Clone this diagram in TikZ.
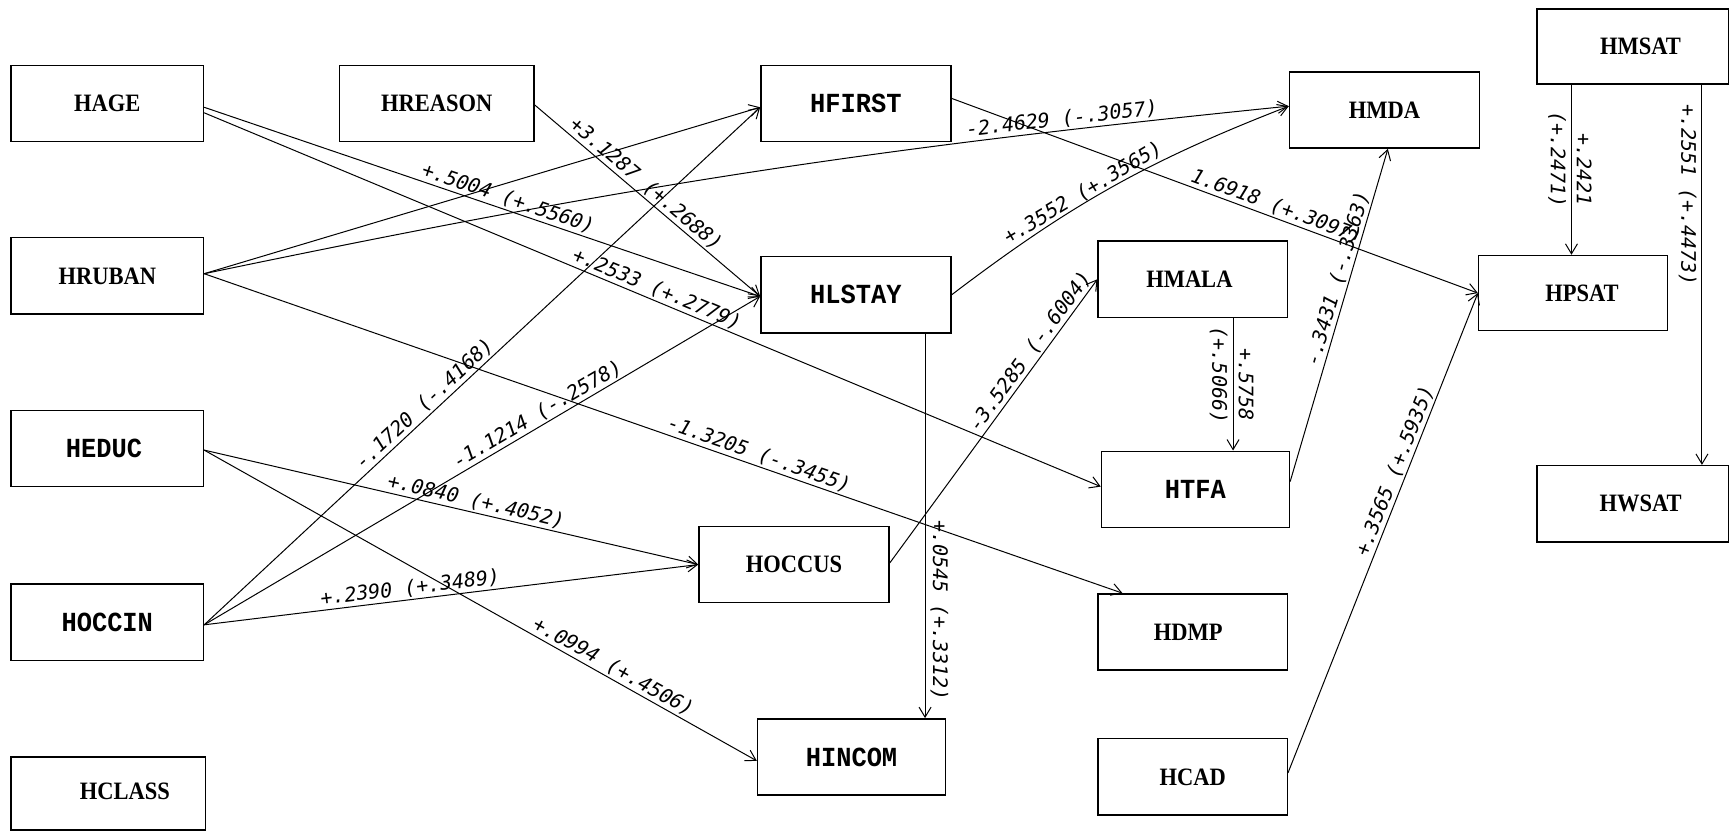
\documentclass[tikz,border=0pt]{standalone}
\usepackage{fontspec}
\usetikzlibrary{arrows.meta,calc}
\newfontfamily\serifbox{Liberation Serif}[FakeStretch=0.9]
\newfontfamily\monobox{Liberation Mono}[FakeStretch=0.92]
\newfontfamily\coeffont{DejaVu Sans Mono}

\begin{document}
\begin{tikzpicture}[x=0.5529pt,y=-0.5529pt,
  var/.style 2 args={draw, line width=0.7pt, inner sep=0pt,
    minimum width=#1*0.5529pt, minimum height=#2*0.5529pt},
  sertxt/.style={font=\serifbox\bfseries\fontsize{12.5}{14}\selectfont, inner sep=0pt},
  montxt/.style={font=\monobox\bfseries\fontsize{13.8}{15}\selectfont, inner sep=0pt},
  link/.style={line width=0.5pt, -{Straight Barb[length=5pt,width=6pt]}},
  coef/.style={font=\coeffont\itshape\fontsize{10}{11}\selectfont, inner sep=1pt, sloped},
  vcoef/.style={font=\coeffont\itshape\fontsize{10}{11}\selectfont, inner sep=2.5pt, rotate=-90},
]
\fill[white] (0,0) rectangle (1568,751);
\useasboundingbox (0,0) rectangle (1568,751);

% variable boxes
\node[var={174}{69}] (hage)    at (97,93.5)    {};
\node[var={174}{69}] (hruban)  at (97,249.5)   {};
\node[var={174}{69}] (heduc)   at (97,405.5)   {};
\node[var={174}{69}] (hoccin)  at (97,562.5)   {};
\node[var={176}{66}] (hclass)  at (98,717.5)   {};
\node[var={176}{69}] (hreason) at (395,93.5)   {};
\node[var={172}{69}] (hfirst)  at (774,93.5)   {};
\node[var={172}{69}] (hlstay)  at (774,266.5)  {};
\node[var={172}{69}] (hoccus)  at (718,510.5)  {};
\node[var={170}{69}] (hincom)  at (770,684.5)  {};
\node[var={172}{69}] (hmda)    at (1252,99.5)  {};
\node[var={171}{69}] (hmala)   at (1078.5,252.5) {};
\node[var={170}{69}] (htfa)    at (1081,442.5) {};
\node[var={171}{69}] (hdmp)    at (1078.5,571.5) {};
\node[var={171}{69}] (hcad)    at (1078.5,702.5) {};
\node[var={171}{68}] (hpsat)   at (1422.5,265) {};
\node[var={173}{68}] (hmsat)   at (1476.5,42)  {};
\node[var={173}{69}] (hwsat)   at (1476.5,455.5) {};

% box names
\node[sertxt] (hage-t)    at (hage)    {HAGE};
\node[sertxt] (hruban-t)  at (hruban)  {HRUBAN};
\node[montxt] (heduc-t)   at ($(heduc)+(-3,0)$) {HEDUC};
\node[montxt] (hoccin-t)  at (hoccin)  {HOCCIN};
\node[sertxt] (hclass-t)  at ($(hclass)+(15,-2)$) {HCLASS};
\node[sertxt] (hreason-t) at (hreason) {HREASON};
\node[montxt] (hfirst-t)  at (hfirst)  {HFIRST};
\node[montxt] (hlstay-t)  at (hlstay)  {HLSTAY};
\node[sertxt] (hoccus-t)  at (hoccus)  {HOCCUS};
\node[montxt] (hincom-t)  at (hincom)  {HINCOM};
\node[sertxt] (hmda-t)    at (hmda)    {HMDA};
\node[sertxt] (hmala-t)   at ($(hmala)+(-3,0)$) {HMALA};
\node[montxt] (htfa-t)    at (htfa)    {HTFA};
\node[sertxt] (hdmp-t)    at ($(hdmp)+(-4,0)$) {HDMP};
\node[sertxt] (hcad-t)    at (hcad)    {HCAD};
\node[sertxt] (hpsat-t)   at ($(hpsat)+(8,0)$) {HPSAT};
\node[sertxt] (hmsat-t)   at ($(hmsat)+(7,0)$) {HMSAT};
\node[sertxt] (hwsat-t)   at ($(hwsat)+(7,0)$) {HWSAT};

% paths with coefficients
\draw[link] ($(hage.east)+(0,3.5)$) -- node[coef,above,pos=0.54]{+.5004 (+.5560)} ($(hlstay.west)+(0,1.5)$);
\draw[link] ($(hage.east)+(0,8.5)$) -- node[coef,above,pos=0.50]{+.2533 (+.2779)} ($(htfa.west)+(0,-2.5)$);
\draw[link] ($(hreason.east)+(0,1.5)$) -- node[coef,above,pos=0.46]{+3.1287 (+.2688)} ($(hlstay.west)+(0,1.5)$);
\draw[link] ($(hruban.east)+(0,-2)$) -- ($(hfirst.west)+(0,3.5)$);
\draw[link] ($(hruban.east)+(0,-2)$) to[bend left=3] node[coef,above,pos=0.81]{-2.4629 (-.3057)} ($(hmda.west)+(0,-3.5)$);
\draw[link] ($(hruban.east)+(0,-2)$) -- node[coef,above,pos=0.60]{-1.3205 (-.3455)} ($(hdmp.north)+(-63.5,0)$);
\draw[link] ($(heduc.east)+(0,1.5)$) -- node[coef,above,pos=0.545]{+.0840 (+.4052)} (hoccus.west);
\draw[link] ($(heduc.east)+(0,1.5)$) -- node[coef,above,pos=0.73]{+.0994 (+.4506)} ($(hincom.west)+(0,3.5)$);
\draw[link] ($(hoccin.east)+(0,2.5)$) -- node[coef,above,pos=0.41]{-.1720 (-.4168)} ($(hfirst.west)+(0,3.5)$);
\draw[link] ($(hoccin.east)+(0,2.5)$) -- node[coef,above,pos=0.61]{-1.1214 (-.2578)} ($(hlstay.west)+(0,1.5)$);
\draw[link] ($(hoccin.east)+(0,2.5)$) -- node[coef,above,pos=0.42]{+.2390 (+.3489)} (hoccus.west);
\draw[link] ($(hfirst.east)+(0,-4.5)$) -- node[coef,above,pos=0.61]{1.6918 (+.3097)} (hpsat.west);
\draw[link] (hlstay.east) to[bend left=8] node[coef,above,pos=0.42,inner sep=0pt]{+.3552 (+.3565)} ($(hmda.west)+(0,-3.5)$);
\draw[link] ($(hoccus.east)+(0,-1.5)$) -- node[coef,above,pos=0.72]{-3.5285 (-.6004)} (hmala.west);
\draw[link] ($(htfa.east)+(0,-7)$) -- node[coef,above,pos=0.6]{-.3431 (-.3363)} ($(hmda.south)+(3,0)$);
\draw[link] ($(hcad.east)+(0,-3.5)$) -- node[coef,above,pos=0.62]{+.3565 (+.5935)} (hpsat.west);

% vertical paths
\coordinate (lsA) at ($(hlstay.south)+(62.5,0)$);
\draw[link] (lsA) -- node[vcoef,above,pos=0.72]{+.0545 (+.3312)} (lsA |- hincom.north);
\coordinate (maA) at ($(hmala.south)+(36.5,0)$);
\draw[link] (maA) -- node[vcoef,above,pos=0.50]{+.5758} node[vcoef,below,pos=0.43]{(+.5066)} (maA |- htfa.north);
\coordinate (msA) at ($(hmsat.south)+(-55.5,0)$);
\draw[link] (msA) -- node[vcoef,above,pos=0.50]{+.2421} node[vcoef,below,pos=0.44]{(+.2471)} (msA |- hpsat.north);
\coordinate (msB) at ($(hmsat.south)+(62.5,0)$);
\draw[link] (msB) -- node[vcoef,below,pos=0.29]{+.2551 (+.4473)} (msB |- hwsat.north);
\end{tikzpicture}
\end{document}
